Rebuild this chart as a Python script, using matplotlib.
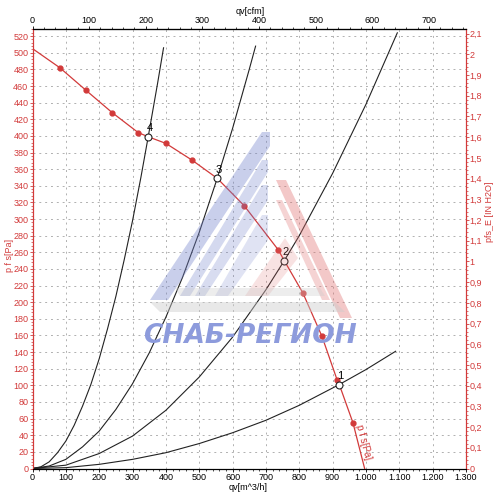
import matplotlib.pyplot as plt
from matplotlib.ticker import MultipleLocator, FuncFormatter
from matplotlib.patches import Polygon

plt.rcParams['font.family'] = ['Liberation Sans', 'DejaVu Sans']

# fan curve p_fs [Pa] over qv [m^3/h]
fan_q = [0, 82, 160, 239, 317, 347, 400, 478, 554, 635, 737, 755, 811, 868, 914, 920, 961, 996]
fan_p = [505, 482, 455, 428, 404, 399, 391, 371, 349, 316, 263, 250, 211, 159, 106, 101, 55, 0]
dot_idx = [1, 2, 3, 4, 6, 7, 9, 10, 12, 13, 14, 16]

# system curves
sys4_q = [0, 25, 50, 75, 100, 125, 150, 175, 200, 225, 250, 275, 300, 325, 347, 375, 393]
sys4_p = [0, 2, 8, 19, 33, 52, 75, 101, 132, 168, 207, 251, 298, 350, 399, 463, 506]
sys3_q = [0, 50, 100, 150, 200, 250, 300, 350, 400, 450, 500, 554, 600, 650, 669]
sys3_p = [0, 3, 11, 26, 45, 71, 102, 139, 182, 230, 284, 349, 409, 480, 508]
sys2_q = [0, 100, 200, 300, 400, 500, 600, 700, 755, 800, 900, 1000, 1094]
sys2_p = [0, 4, 18, 39, 70, 110, 158, 215, 250, 280, 355, 438, 524]
sys1_q = [0, 100, 200, 300, 400, 500, 600, 700, 800, 920, 1000, 1089]
sys1_p = [0, 1, 5, 11, 19, 30, 43, 58, 76, 101, 119, 141]

# operating points
op_q = [920, 755, 554, 347]
op_p = [101, 250, 349, 399]
op_lbl = ['1', '2', '3', '4']

# top axis ticks [cfm]
cfm_ticks = [0, 100, 200, 300, 400, 500, 600, 700]

RED = '#d23a3a'
PA_PER_INH2O = 249.089
M3H_PER_CFM = 1.699
FS = 6.5

fig = plt.figure(figsize=(5, 5), dpi=100)
ax = fig.add_axes([0.065, 0.063, 0.867, 0.878])

# ---- watermark logo ----
def fig_poly(pts, color, alpha):
    p = Polygon([(x / 500, 1 - y / 500) for x, y in pts], closed=True,
                transform=fig.transFigure, facecolor=color, edgecolor='none',
                alpha=alpha, zorder=0)
    fig.patches.append(p)

blue = '#7383cc'
redl = '#e07070'
grey = '#cccccc'
fig_poly([(262, 132), (270, 132), (270, 146), (168, 300), (150, 300)], blue, 0.38)
fig_poly([(262, 160), (268, 160), (268, 172), (190, 296), (180, 296)], blue, 0.3)
fig_poly([(262, 185), (268, 185), (268, 200), (205, 296), (195, 296)], blue, 0.28)
fig_poly([(262, 215), (268, 215), (268, 240), (228, 296), (215, 296)], blue, 0.22)
fig_poly([(276, 180), (286, 180), (352, 318), (340, 318)], redl, 0.38)
fig_poly([(276, 200), (282, 200), (330, 300), (322, 300)], redl, 0.3)
fig_poly([(245, 296), (285, 238), (298, 258), (268, 296)], redl, 0.2)
fig_poly([(150, 302), (335, 302), (345, 312), (160, 312)], grey, 0.45)
fig_poly([(175, 288), (320, 288), (325, 296), (180, 296)], grey, 0.35)
fig.text(0.5, 1 - 336 / 500, 'СНАБ-РЕГИОН', color='#8d9bdc', fontsize=19,
         fontweight='bold', style='italic', ha='center', va='center', zorder=0,
         family='DejaVu Sans')

# ---- curves ----
for q, p in [(sys4_q, sys4_p), (sys3_q, sys3_p), (sys2_q, sys2_p), (sys1_q, sys1_p)]:
    ax.plot(q, p, color='#222222', lw=0.8, zorder=3)

ax.plot(fan_q, fan_p, color=RED, lw=0.9, zorder=4)
ax.plot([fan_q[i] for i in dot_idx], [fan_p[i] for i in dot_idx], 'o',
        color=RED, ms=3.5, zorder=5)
ax.plot(op_q, op_p, 'o', mfc='white', mec='#222222', mew=0.8, ms=5, zorder=6)
for q, p, t in zip(op_q, op_p, op_lbl):
    ax.annotate(t, (q, p), xytext=(1, 2.5), textcoords='offset points',
                fontsize=8, ha='center', va='bottom', zorder=7)

ax.text(992, 32, 'p f s[Pa]', color=RED, fontsize=7, rotation=-75,
        ha='center', va='center', zorder=7)

# ---- axes ----
ax.set_xlim(0, 1300)
ax.set_ylim(0, 528)
ax.patch.set_alpha(0)
ax.xaxis.set_major_locator(MultipleLocator(100))
ax.xaxis.set_minor_locator(MultipleLocator(20))
ax.yaxis.set_major_locator(MultipleLocator(20))
ax.yaxis.set_minor_locator(MultipleLocator(4))
ax.xaxis.set_major_formatter(FuncFormatter(lambda v, pos: f'{int(v):,}'.replace(',', '.')))
ax.grid(True, which='major', color='#b0b0b0', ls=(0, (2, 4)), lw=0.7)
ax.tick_params(axis='x', labelsize=FS, length=2, width=0.6, pad=1)
ax.tick_params(axis='x', which='minor', length=1.2, width=0.5)
ax.tick_params(axis='y', labelsize=FS, length=2, width=0.6, pad=1, colors=RED)
ax.tick_params(axis='y', which='minor', length=1.2, width=0.5, colors=RED)
ax.spines['left'].set_color(RED)
ax.spines['right'].set_color(RED)
fig.text(9 / 500, 1 - 255 / 500, 'p f s[Pa]', color=RED, fontsize=FS,
         rotation=90, ha='center', va='center')
fig.text(0.496, 1 - 487 / 500, 'qv[m^3/h]', fontsize=FS, ha='center', va='center')

axr = ax.twinx()
axr.set_ylim(0, 528 / PA_PER_INH2O)
axr.yaxis.set_major_locator(MultipleLocator(0.1))
axr.yaxis.set_minor_locator(MultipleLocator(0.02))
axr.yaxis.set_major_formatter(FuncFormatter(lambda v, pos: f'{v:.1f}'.rstrip('0').rstrip('.').replace('.', ',')))
axr.tick_params(axis='y', labelsize=FS, length=2, width=0.6, pad=0.5, colors=RED)
axr.tick_params(axis='y', which='minor', length=1.2, width=0.5, colors=RED)
axr.spines['right'].set_color(RED)
axr.spines['left'].set_color(RED)
fig.text(490 / 500, 1 - 212 / 500, 'pfs_E [IN H2O]', color=RED, fontsize=FS,
         rotation=90, ha='center', va='center')

axt = ax.secondary_xaxis('top', functions=(lambda q: q / M3H_PER_CFM, lambda c: c * M3H_PER_CFM))
axt.set_xticks(cfm_ticks)
axt.set_xticklabels([str(c) for c in cfm_ticks])
axt.xaxis.set_minor_locator(MultipleLocator(20))
axt.tick_params(axis='x', labelsize=FS, length=2, width=0.6, pad=1)
axt.tick_params(axis='x', which='minor', length=1.2, width=0.5)
fig.text(0.5, 1 - 12 / 500, 'qv[cfm]', fontsize=FS, ha='center', va='center')

plt.savefig('out.png', dpi=100)
